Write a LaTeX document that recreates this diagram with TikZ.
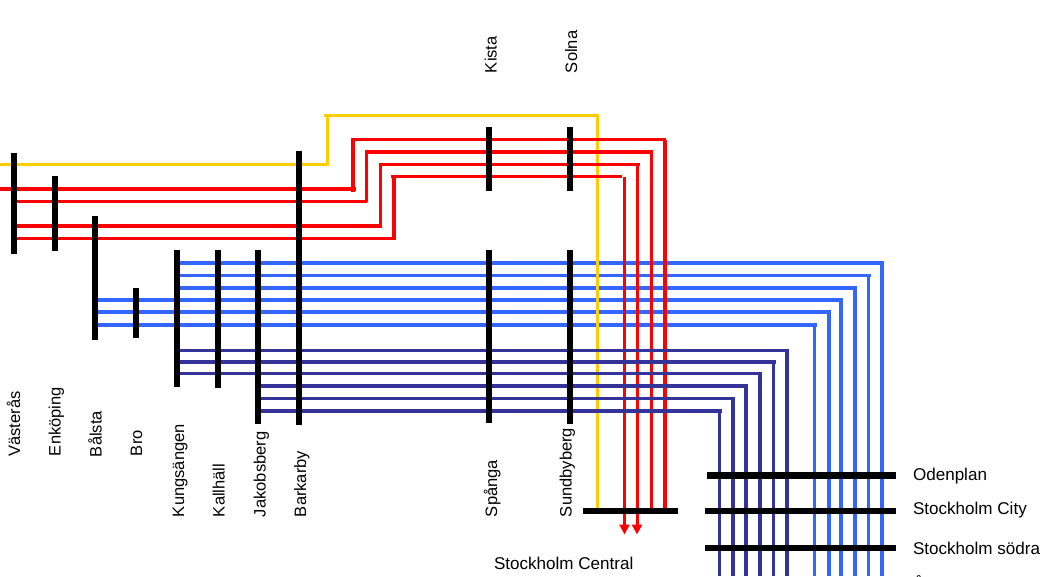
\documentclass[tikz,border=0pt]{standalone}
\usepackage{fontspec}
\setmainfont{Liberation Sans}
\usetikzlibrary{arrows.meta}
\definecolor{lblue}{HTML}{3366FF}
\definecolor{dblue}{HTML}{333399}
\definecolor{lyellow}{HTML}{FFCC00}
\definecolor{lred}{HTML}{FF0000}
\tikzset{
  x=0.75pt,y=-0.75pt,
  w3/.style={line width=2.25pt},
  w4/.style={line width=3pt},
  blueline/.style={draw=lblue},
  darkline/.style={draw=dblue},
  yellowline/.style={draw=lyellow},
  redline/.style={draw=lred},
  bar/.style={draw=black,line width=4.5pt},
  lab/.style={inner sep=0pt,outer sep=0pt,font=\fontsize{12.8pt}{15pt}\selectfont,text=black},
  vlab/.style={lab,font=\fontsize{12.4pt}{15pt}\selectfont,rotate=90,anchor=base west},
  hlab/.style={lab,anchor=base west},
  arrowline/.style={redline,-{Triangle[width=7.5pt,length=7.5pt]}}
}
% #1 colour style, #2 horizontal width, #3 vertical width, #4 start x, #5 y, #6 corner x, #7 end y
\newcommand{\elbow}[7]{%
  \draw[#1,#2] (#4,#5) -- ({#6+2},#5);
  \draw[#1,#3] (#6,{#5-1.5}) -- (#6,#7);
}
\begin{document}
\begin{tikzpicture}
\path[use as bounding box,fill=white] (0,0) rectangle (1050,576);
\clip (0,0) rectangle (1050,576);
% light blue lines
\elbow{blueline}{w4}{w4}{180}{263}{882}{576}
\elbow{blueline}{w3}{w3}{180}{275}{868.5}{576}
\elbow{blueline}{w4}{w4}{180}{288}{855}{576}
\elbow{blueline}{w4}{w4}{98}{300}{841}{576}
\elbow{blueline}{w4}{w4}{98}{312}{829}{576}
\elbow{blueline}{w4}{w3}{98}{325}{814.5}{576}
% yellow
\draw[yellowline,w3] (0,164.5) -- (328.5,164.5);
\draw[yellowline,w3] (327,166) -- (327,115);
\draw[yellowline,w3] (324,115) -- (599,115);
\draw[yellowline,w3] (597.5,113.5) -- (597.5,510);
% red
\draw[redline,w4] (0,189) -- (356,189);
\draw[redline,w4] (353,192) -- (353,138);
\draw[redline,w3] (351,139.5) -- (666,139.5);
\draw[redline,w4] (665,140) -- (665,510);
\draw[redline,w3] (17,201) -- (367,201);
\draw[redline,w3] (366.5,202) -- (366.5,150);
\draw[redline,w4] (365,152) -- (652.5,152);
\draw[redline,w3] (651.5,151) -- (651.5,510);
\draw[redline,w4] (17,226) -- (382,226);
\draw[redline,w3] (380.5,228) -- (380.5,163);
\draw[redline,w3] (379,164.5) -- (640,164.5);
\draw[arrowline,w3] (637,165) -- (637,534.5);
\draw[redline,w3] (17,238) -- (396,238);
\draw[redline,w4] (394,239.5) -- (394,175);
\draw[redline,w3] (391,176.5) -- (622,176.5);
\draw[arrowline,w3] (624.5,177) -- (624.5,534.5);
% dark blue
\elbow{darkline}{w3}{w4}{180}{350.5}{787}{576}
\elbow{darkline}{w4}{w3}{178}{362}{773.5}{576}
\elbow{darkline}{w3}{w4}{174}{373.5}{760}{576}
\elbow{darkline}{w4}{w4}{256}{386}{746}{576}
\elbow{darkline}{w3}{w4}{259}{398.5}{733}{576}
\elbow{darkline}{w4}{w3}{258}{411}{719.5}{576}
% station bars
\draw[bar] (14,153) -- (14,254);
\draw[bar] (55,176) -- (55,251);
\draw[bar] (95,216) -- (95,340);
\draw[bar] (136,288) -- (136,338);
\draw[bar] (177,250) -- (177,387);
\draw[bar] (218,250) -- (218,388);
\draw[bar] (258,250) -- (258,424);
\draw[bar] (299,151) -- (299,425);
\draw[bar] (489,127) -- (489,191);
\draw[bar] (489,250) -- (489,423);
\draw[bar] (570,127) -- (570,191);
\draw[bar] (570,250) -- (570,424);
\draw[bar,line width=5.25pt] (707,475.5) -- (896,475.5);
\draw[bar] (705,511) -- (896,511);
\draw[bar] (705,548) -- (896,548);
\draw[bar] (583,511) -- (678,511);
% labels
\node[vlab] (vasteras) at (20,456.5) {Västerås};
\node[vlab] (enkoping) at (60.5,456) {Enköping};
\node[vlab] (balsta) at (101.5,457) {Bålsta};
\node[vlab] (bro) at (142,456) {Bro};
\node[vlab] (kungsangen) at (184,517) {Kungsängen};
\node[vlab] (kallhall) at (224.5,517) {Kallhäll};
\node[vlab] (jakobsberg) at (265.5,517) {Jakobsberg};
\node[vlab] (barkarby) at (306,517) {Barkarby};
\node[vlab] (spanga) at (497,517) {Spånga};
\node[vlab] (sundbyberg) at (571.5,517) {Sundbyberg};
\node[vlab] (kista) at (496.5,73) {Kista};
\node[vlab] (solna) at (577,73) {Solna};
\node[hlab] (odenplan) at (913,480) {Odenplan};
\node[hlab] (city) at (913,514) {Stockholm City};
\node[hlab] (sodra) at (913,554) {Stockholm södra};
\node[hlab] (central) at (494,569) {Stockholm Central};
\node[hlab] (next) at (913,590) {Å};
\end{tikzpicture}
\end{document}
